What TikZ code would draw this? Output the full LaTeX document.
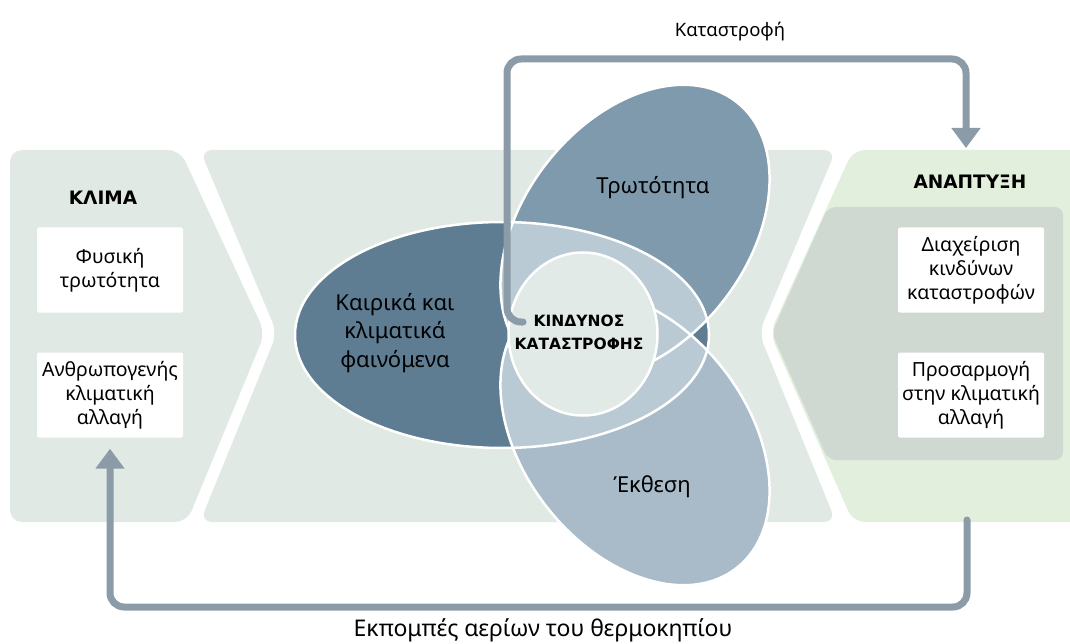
\documentclass[tikz,border=0pt]{standalone}
\usepackage{fontspec}
\setmainfont{Noto Sans}
\newfontfamily\headfont{DejaVu Sans}
\usepackage{tikz}
\usetikzlibrary{arrows.meta,shapes.geometric}

\definecolor{panelgray}{HTML}{E1E9E4}
\definecolor{panelgreen}{HTML}{E2EFDC}
\definecolor{panelinner}{HTML}{CFD9D1}
\definecolor{hazard}{HTML}{5E7D93}
\definecolor{vulner}{HTML}{7F9AAD}
\definecolor{expose}{HTML}{A9BBC8}
\definecolor{overlap}{HTML}{BACAD4}
\definecolor{riskfill}{HTML}{E1EAE6}
\definecolor{flowgray}{HTML}{8B9BA7}

\tikzset{
  box/.style={fill=white, rounded corners=2pt, minimum width=146pt, minimum height=85pt, align=center, inner sep=1pt, font=\fontsize{19.5}{24}\selectfont},
  heading/.style={font=\headfont\bfseries\fontsize{18.5}{22}\selectfont},
  venn/.style={align=center, font=\fontsize{22}{28.5}\selectfont},
  rim/.style={draw=white, line width=2.5pt},
  flow/.style={draw=flowgray, line width=7pt, rounded corners=14pt, line cap=round, -{Triangle[width=28pt,length=20pt]}}
}

\begin{document}
\begin{tikzpicture}[x=1pt,y=1pt]
\useasboundingbox (0,0) rectangle (1070,-644);

\fill[panelgray, rounded corners=12pt] (10,-150) -- (180,-150) -- (265,-333) -- (187,-522) -- (10,-522) -- cycle;	% Feld Klima
\fill[panelgray, rounded corners=12pt] (200,-150) -- (836,-150) -- (759,-333) -- (836,-522) -- (200,-522) -- (277,-333) -- cycle;	% Feld Mitte
\fill[panelgreen, rounded corners=12pt] (853,-150) -- (1082,-150) -- (1082,-522) -- (853,-522) -- (770,-333) -- cycle;	% Feld Entwicklung
\fill[panelinner, rounded corners=8pt] (828,-207) -- (1063,-207) -- (1063,-460) -- (828,-460) -- (772,-333) -- cycle;	% Feld Entwicklung innen

\fill[hazard] (502,-335) ellipse [x radius=207, y radius=113];	% Ellipse links
\fill[vulner, rotate around={52:(635,-232)}] (635,-232) ellipse [x radius=165, y radius=112];	% Ellipse oben
\fill[expose, rotate around={-52:(635,-438)}] (635,-438) ellipse [x radius=165, y radius=112];	% Ellipse unten

\begin{scope}	% Schnittflaechen hell
\clip (502,-335) ellipse [x radius=207, y radius=113];
\fill[overlap, rotate around={52:(635,-232)}] (635,-232) ellipse [x radius=165, y radius=112];
\fill[overlap, rotate around={-52:(635,-438)}] (635,-438) ellipse [x radius=165, y radius=112];
\end{scope}
\begin{scope}
\clip[rotate around={52:(635,-232)}] (635,-232) ellipse [x radius=165, y radius=112];
\fill[overlap, rotate around={-52:(635,-438)}] (635,-438) ellipse [x radius=165, y radius=112];
\end{scope}

\draw[rim] (502,-335) ellipse [x radius=207, y radius=113];	% weisse Raender
\draw[rim, rotate around={52:(635,-232)}] (635,-232) ellipse [x radius=165, y radius=112];
\draw[rim, rotate around={-52:(635,-438)}] (635,-438) ellipse [x radius=165, y radius=112];

\node[ellipse, rim, fill=riskfill, minimum width=149pt, minimum height=163pt, inner sep=0pt] (risk) at (583,-334) {};	% Kreis Mitte
\node[align=center, font=\headfont\bfseries\fontsize{15.5}{23}\selectfont] (risktxt) at (579,-332) {ΚΙΝΔΥΝΟΣ\\ΚΑΤΑΣΤΡΟΦΗΣ};

\node[venn] (hazardtxt) at (395,-333) {Καιρικά και\\κλιματικά\\φαινόμενα};
\node[venn] (vulnertxt) at (653,-188) {Τρωτότητα};
\node[venn] (exposetxt) at (652,-487) {Έκθεση};

\node[heading] (klima) at (103,-198) {ΚΛΙΜΑ};	% linke Seite
\node[box] (phys) at (110,-270) {Φυσική\\τρωτότητα};
\node[box] (anthro) at (110,-395) {Ανθρωπογενής\\κλιματική\\αλλαγή};

\node[heading] (anaptyxi) at (970,-182) {ΑΝΑΠΤΥΞΗ};	% rechte Seite
\node[box] (drm) at (971,-270) {Διαχείριση\\κινδύνων\\καταστροφών};
\node[box] (adapt) at (971,-395) {Προσαρμογή\\στην κλιματική\\αλλαγή};

\coordinate (riskin) at ([shift={(-60pt,12pt)}]risk.center);	% Pfeil oben
\coordinate (upleft) at (507,-59);
\coordinate (upright) at (966,-59);
\coordinate (devtop) at (966,-148);
\draw[flow] (riskin) -| (upleft) -- (upright) -- (devtop);
\node[font=\fontsize{18.5}{22}\selectfont] (disaster) at (730,-32) {Καταστροφή};

\coordinate (devbot) at (967,-520);	% Pfeil unten
\coordinate (downright) at (967,-607);
\draw[flow] (devbot) -- (downright) -| ([yshift=-11pt]anthro.south);
\node[font=\fontsize{23}{26}\selectfont] (emission) at (543,-630) {Εκπομπές αερίων του θερμοκηπίου};

\end{tikzpicture}
\end{document}
